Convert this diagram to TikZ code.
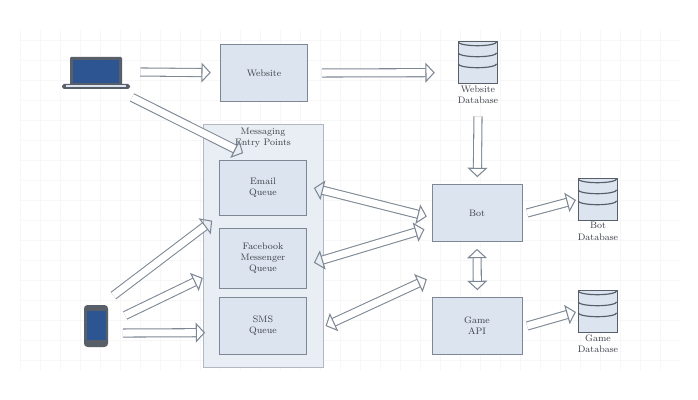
\documentclass[tikz,border=0pt]{standalone}
\usepackage{tikz}
\usetikzlibrary{positioning, arrows.meta, shapes.geometric}
\definecolor{edgegray}{HTML}{7E8894}
\definecolor{boxfill}{HTML}{DCE5EF}
\definecolor{groupfill}{HTML}{E9EEF4}
\definecolor{iconblue}{HTML}{2D5591}
\definecolor{txtgray}{HTML}{3C4048}

\begin{document}
\begin{tikzpicture}[
  x=0.03cm, y=-0.03cm,
  box/.style={rectangle, draw=edgegray, fill=boxfill, line width=0.8pt, minimum height=1.65cm, minimum width=2.6cm, align=center, font=\footnotesize, text=txtgray},
  group/.style={rectangle, draw=edgegray!60, fill=groupfill, line width=0.8pt, minimum width=3.6cm, minimum height=7.3cm},
  label/.style={align=center, font=\footnotesize, text=txtgray, inner sep=1pt},
  db/.style={cylinder, shape border rotate=90, aspect=0.4, draw=edgegray!70!black, fill=boxfill, line width=1pt, minimum width=1.15cm, minimum height=1.25cm, inner sep=0pt},
  icon/.style={rectangle, minimum width=2cm, minimum height=1cm, inner sep=0pt},
  arrow/.style={draw=edgegray, line width=0.9pt, double=white, double distance=6pt, -{Triangle[open, length=8pt, width=17pt]}},
  twoway/.style={arrow, {Triangle[open, length=8pt, width=17pt]}-{Triangle[open, length=8pt, width=17pt]}}
]
  \useasboundingbox (0,0) rectangle (698,400);
  % faint grid in the background
  \fill[white] (0,0) rectangle (698,400);
  \draw[black!3, step=0.6cm] (20,30) grid (680,370);

  % devices
  \node[icon, minimum width=2cm, minimum height=0.95cm] (laptop) at (95,72) {};
  \fill[edgegray!70!black, rounded corners=1pt] (70,57) rectangle (122,85);
  \fill[iconblue] (73,60) rectangle (119,83);
  \fill[edgegray!70!black, rounded corners=1.5pt] (62,84) rectangle (130,89);
  \fill[boxfill] (66,85.5) rectangle (126,87.5);

  \node[icon, minimum width=0.75cm, minimum height=1.25cm] (phone) at (96,326) {};
  \fill[edgegray!70!black, rounded corners=3pt] (84,305) rectangle (108,347);
  \fill[iconblue] (86.5,311) rectangle (105.5,340);

  % Website
  \node[box, minimum height=1.7cm] (website) at (264,73) {Website};

  % Messaging entry points
  \node[group] (entry) at (263,246) {};
  \node[label, below=2pt of entry.north] (entrytitle) {Messaging\\Entry Points};
  \node[box] (email) at (263,188) {Email\\Queue};
  \node[box, minimum height=1.8cm] (facebook) at (263,258) {Facebook\\Messenger\\Queue};
  \node[box, minimum height=1.7cm] (sms) at (263,326) {SMS\\Queue};

  % Bot side
  \node[box, minimum width=2.7cm, minimum height=1.7cm] (bot) at (477,213) {Bot};
  \node[box, minimum width=2.7cm, minimum height=1.7cm] (game) at (477,326) {Game\\API};

  % Databases
  \node[db] (webdb) at (478,63) {};
  \node[label, below=0pt of webdb] (webdblabel) {Website\\Database};
  \node[db] (botdb) at (598,200) {};
  \node[label, below=0pt of botdb] (botdblabel) {Bot\\Database};
  \node[db] (gamedb) at (598,312) {};
  \node[label, below=0pt of gamedb] (gamedblabel) {Game\\Database};
  \foreach \d in {webdb, botdb, gamedb} {
    \foreach \s in {0, 0.33, 0.66}
      \draw[edgegray!70!black, line width=1pt] ([yshift=-\s cm]\d.before top) arc[start angle=180, end angle=360, x radius=0.575cm, y radius=0.115cm];
  }

  % Arrows
  \draw[arrow] ([xshift=10pt]laptop.east) -- ([xshift=-8pt,yshift=0.3pt]website.west);
  \draw[arrow] ([xshift=12pt]website.east) -- ([xshift=-20pt,yshift=0.3pt]webdb.west |- website.east);
  \draw[arrow] ([shift={(3pt,-8pt)}]laptop.south east) -- ([shift={(8pt,-4pt)}]entrytitle.south west);
  \draw[arrow] ([yshift=-10pt]webdblabel.south) -- ([xshift=0.3pt,yshift=6pt]bot.north);
  \draw[twoway] ([xshift=6pt]email.east) -- ([shift={(-4pt,-3pt)}]bot.west);
  \draw[twoway] ([xshift=6pt,yshift=-4pt]facebook.east) -- ([shift={(-6pt,-14pt)}]bot.west);
  \draw[twoway] ([xshift=16pt]sms.east) -- ([shift={(-4pt,-32pt)}]bot.south west);
  \draw[twoway] ([yshift=-6pt]bot.south) -- ([xshift=0.3pt,yshift=6pt]game.north);
  \draw[arrow] ([xshift=4pt]bot.east) -- ([xshift=-2pt]botdb.west);
  \draw[arrow] ([xshift=4pt]game.east) -- ([xshift=-2pt]gamedb.west);
  \draw[arrow] ([shift={(4pt,8pt)}]phone.north east) -- ([shift={(-6pt,-4pt)}]email.south west);
  \draw[arrow] ([shift={(14pt,9pt)}]phone.east) -- ([shift={(-14pt,-17pt)}]facebook.west);
  \draw[arrow] ([shift={(12pt,-6pt)}]phone.east) -- ([shift={(-12pt,-5.7pt)}]sms.west);
\end{tikzpicture}
\end{document}
